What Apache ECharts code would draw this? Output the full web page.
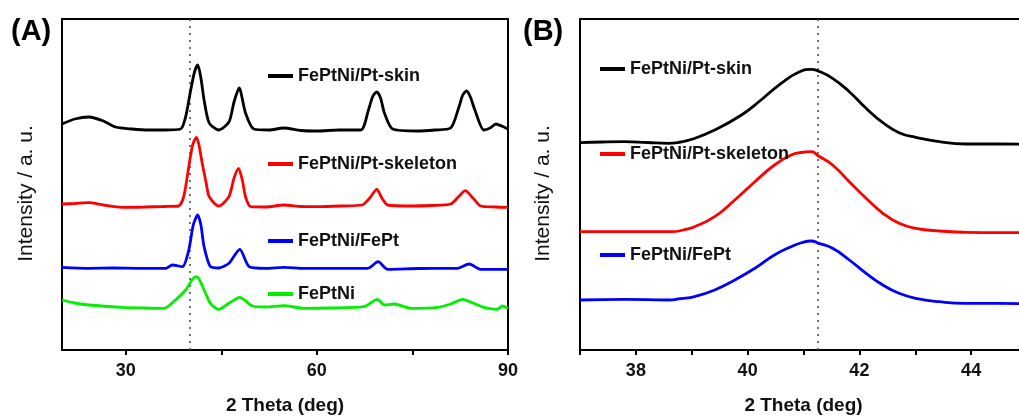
<!DOCTYPE html>
<html>
<head>
<meta charset="utf-8">
<script src="https://cdn.jsdelivr.net/npm/echarts@6/dist/echarts.min.js"></script>
<style>
  html, body { margin: 0; padding: 0; background: #fff; }
  #chart { width: 1019px; height: 416px; }
</style>
</head>
<body>
<div id="chart"></div>
<script>
// XRD patterns: [2θ (deg), intensity (a.u., stacked with offsets)]
const seriesNames = ['FePtNi/Pt-skin', 'FePtNi/Pt-skeleton', 'FePtNi/FePt', 'FePtNi'];

// (A) wide scan, 20–90°
const wideSkin = [
  [20.0, 226], [22.0, 231], [24.2, 233], [26.5, 229], [28.4, 223], [31.0, 221], [33.6, 220],
  [36.0, 220], [38.6, 221], [39.4, 233], [40.2, 260], [40.8, 278], [41.3, 285], [41.8, 272],
  [42.3, 250], [43.1, 227], [44.6, 220], [46.2, 228], [47.0, 248], [47.8, 262], [48.8, 237],
  [50.1, 221], [52.5, 220], [54.8, 222], [57.5, 219.5], [60.1, 219], [63.5, 220], [66.9, 220],
  [68.1, 240], [68.8, 254], [69.4, 258], [70.0, 252], [70.6, 237], [71.9, 221], [75.8, 219],
  [78.5, 220], [81.0, 222], [82.3, 243], [82.9, 255], [83.5, 259], [84.1, 253], [84.8, 240],
  [86.2, 220], [87.2, 222], [88.1, 226], [89.0, 224], [90.0, 221]
];
const wideSkeleton = [
  [20.0, 146], [22.0, 146.5], [24.2, 147.3], [26.5, 145], [29.4, 142.7], [33.0, 143], [36.0, 143.5],
  [38.3, 144], [39.1, 153.3], [39.9, 183.3], [40.5, 205], [41.1, 212.7], [41.5, 205], [42.0, 187],
  [42.6, 168], [43.1, 153.3], [44.6, 144], [46.2, 153.3], [47.0, 172], [47.7, 181.7], [48.3, 170],
  [48.8, 153.3], [49.6, 143.3], [52.0, 143], [54.8, 145], [57.5, 143.5], [60.0, 143.3], [64.0, 144],
  [67.1, 145], [68.3, 152], [69.4, 160.7], [70.2, 152], [71.1, 145], [75.0, 144], [78.0, 144.5],
  [81.0, 146], [82.2, 153], [83.3, 159.3], [84.5, 152], [85.7, 144], [88.0, 143], [90.0, 142.7]
];
const wideFePt = [
  [20.0, 82.7], [24.2, 81.7], [28.0, 82], [32.0, 81.7], [36.3, 81.7], [37.3, 85], [38.9, 83.3],
  [39.9, 100], [40.6, 125], [41.3, 135], [41.8, 125], [42.3, 103.3], [43.3, 83.3], [44.6, 82],
  [46.2, 86.7], [47.9, 100.7], [49.4, 83.3], [52.0, 81.7], [54.8, 82.7], [58.0, 81.7], [62.0, 81.7],
  [68.0, 81.7], [69.6, 88.3], [71.1, 80.7], [76.0, 81.5], [82.1, 81.7], [83.9, 86], [85.7, 80.7],
  [90.0, 80.7]
];
const wideFePtNi = [
  [20.0, 50], [22.0, 47], [24.2, 45], [29.4, 42.7], [33.0, 42], [36.0, 41.7], [37.8, 50],
  [39.4, 60], [40.5, 71], [41.0, 73.3], [41.5, 71], [42.3, 60], [43.3, 46.7], [44.6, 40.7],
  [46.2, 46.7], [47.9, 52.7], [49.9, 44], [52.0, 43], [54.8, 44.3], [58.0, 41.7], [62.0, 42],
  [67.4, 43.3], [69.5, 50.7], [70.6, 45], [72.1, 46], [74.8, 41.7], [79.0, 42.7], [81.0, 46],
  [82.9, 50.7], [84.5, 47], [86.2, 42.7], [88.3, 40.7], [89.1, 44], [90.0, 41.7]
];

// (B) (111) reflection, 37–45°
const peakSkin = [
  [37.0, 207.3], [37.4, 208], [37.8, 208.3], [38.2, 207.5], [38.58, 206.7], [38.8, 208], [39.0, 210.7],
  [39.41, 220], [39.89, 235], [40.24, 250], [40.6, 266.7], [40.93, 278.3], [41.14, 280.7],
  [41.25, 279.3], [41.52, 271.7], [41.82, 258.3], [42.12, 241.7], [42.42, 227.3], [42.71, 217.3],
  [43.01, 212.7], [43.43, 208.3], [43.9, 206], [44.5, 206], [45.0, 205.7]
];
const peakSkeleton = [
  [37.0, 118.3], [37.8, 118.3], [38.64, 118.3], [38.85, 120], [39.05, 123.3], [39.41, 133.3], [39.77, 150],
  [40.13, 168.3], [40.48, 185], [40.78, 195], [40.95, 197.5], [41.14, 198.3], [41.27, 194],
  [41.52, 185], [41.82, 168.3], [42.12, 151.7], [42.42, 136.7], [42.71, 126.7], [43.01, 121.7],
  [43.43, 119], [43.9, 117.7], [44.5, 117.3], [45.0, 117.3]
];
const peakFePt = [
  [37.0, 50], [37.8, 50.7], [38.58, 50], [38.8, 51.3], [39.05, 53.3], [39.41, 60], [39.77, 70], [40.13, 81.7],
  [40.48, 95], [40.78, 103.3], [40.95, 107], [41.14, 109], [41.27, 106.7], [41.52, 101.7],
  [41.82, 90], [42.12, 76.7], [42.42, 65], [42.71, 56.7], [43.01, 51.7], [43.43, 48.3],
  [43.9, 46.7], [44.5, 46.7], [45.0, 46]
];

// Reference positions of the dotted guide lines (deg)
const guideWide = 40.0;
const guidePeak = 41.25;

// Axis ranges, ticks and labels
const wideRange = [20, 90];
const peakRange = [37, 45];
const wideTicks = [30, 45, 60, 75, 90];
const wideLabels = [30, 60, 90];
const peakTicks = [37, 38, 39, 40, 41, 42, 43, 44];
const peakLabels = [38, 40, 42, 44];

const colors = ['#000000', '#ff0000', '#0000ff', '#00f000'];
const FONT = "'Liberation Sans', Arial, sans-serif";

function xAxisFor(gridIndex, range, ticks, labels) {
  return {
    type: 'value', gridIndex, min: range[0], max: range[1],
    name: '2 Theta (deg)', nameLocation: 'middle', nameGap: 46,
    nameTextStyle: { fontFamily: FONT, fontSize: 19, fontWeight: 'bold', color: '#111' },
    axisLine: { show: true, lineStyle: { color: '#000', width: 2 } },
    axisTick: { show: true, customValues: ticks, length: 5, lineStyle: { color: '#000', width: 2 } },
    axisLabel: { customValues: labels, margin: 12, fontFamily: FONT, fontSize: 18, fontWeight: 'bold', color: '#111' },
    splitLine: { show: false }
  };
}
function yAxisFor(gridIndex, gap) {
  return {
    type: 'value', gridIndex, min: 0, max: 331,
    name: 'Intensity / a. u.', nameLocation: 'middle', nameGap: gap,
    nameTextStyle: { fontFamily: FONT, fontSize: 21, color: '#111', padding: [0, 18, 0, 0] },
    axisLine: { show: true, lineStyle: { color: '#000', width: 2 } },
    axisTick: { show: false }, axisLabel: { show: false }, splitLine: { show: false }
  };
}
function lineSeries(name, data, idx, color, smooth, guide) {
  const s = {
    name, type: 'line', data, xAxisIndex: idx, yAxisIndex: idx,
    showSymbol: false, smooth, color,
    lineStyle: { width: 2.8, color }, z: 3
  };
  if (guide !== undefined) {
    s.markLine = {
      silent: true, symbol: 'none', label: { show: false },
      lineStyle: { type: [2, 5], color: '#444', width: 1.5 },
      data: [{ xAxis: guide }], z: 1
    };
  }
  return s;
}
function legendAt(name, left, centerY) {
  return {
    data: [name], left, top: centerY - 10, padding: 0, itemGap: 0,
    itemWidth: 25, itemHeight: 4, icon: 'rect', selectedMode: false,
    textStyle: { fontFamily: FONT, fontSize: 18, fontWeight: 'bold', color: '#111', lineHeight: 20 }
  };
}

const chart = echarts.init(document.getElementById('chart'), null, { renderer: 'canvas' });
chart.setOption({
  animation: false,
  backgroundColor: '#fff',
  title: [
    { text: '(A)', left: 11, top: 17, padding: 0, textStyle: { fontFamily: FONT, fontSize: 29, fontWeight: 'bold', color: '#000' } },
    { text: '(B)', left: 523, top: 17, padding: 0, textStyle: { fontFamily: FONT, fontSize: 29, fontWeight: 'bold', color: '#000' } }
  ],
  grid: [
    { left: 62, top: 19, width: 446, height: 331, outerBoundsMode: 'none',
      show: true, borderColor: '#000', borderWidth: 2 },
    // the (B) frame runs past the right edge of the canvas
    { left: 580, top: 19, width: 447, height: 331, outerBoundsMode: 'none',
      show: true, borderColor: '#000', borderWidth: 2 }
  ],
  xAxis: [
    xAxisFor(0, wideRange, wideTicks, wideLabels),
    xAxisFor(1, peakRange, peakTicks, peakLabels)
  ],
  yAxis: [yAxisFor(0, 25), yAxisFor(1, 26)],
  legend: [
    legendAt(seriesNames[0], 268, 76),
    legendAt(seriesNames[1], 268, 164),
    legendAt(seriesNames[2], 268, 241),
    legendAt(seriesNames[3], 268, 294),
    legendAt(seriesNames[0], 600, 69),
    legendAt(seriesNames[1], 600, 154),
    legendAt(seriesNames[2], 600, 255)
  ],
  series: [
    lineSeries(seriesNames[0], wideSkin, 0, colors[0], 0.25, guideWide),
    lineSeries(seriesNames[1], wideSkeleton, 0, colors[1], 0.25),
    lineSeries(seriesNames[2], wideFePt, 0, colors[2], 0.25),
    lineSeries(seriesNames[3], wideFePtNi, 0, colors[3], 0.25),
    lineSeries(seriesNames[0], peakSkin, 1, colors[0], 0.5, guidePeak),
    lineSeries(seriesNames[1], peakSkeleton, 1, colors[1], 0.5),
    lineSeries(seriesNames[2], peakFePt, 1, colors[2], 0.5)
  ]
});
</script>
</body>
</html>
